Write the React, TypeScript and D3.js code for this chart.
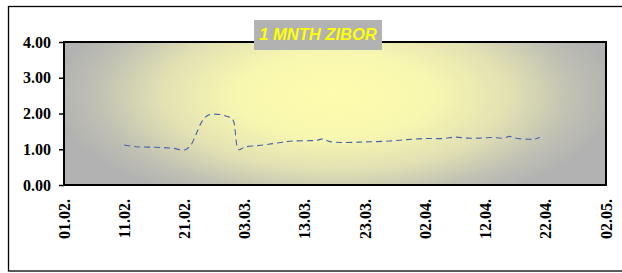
import { useRef, useEffect } from 'react'
import * as d3 from 'd3'

// observation dates (day.month) and 1 month ZIBOR values
const obsDates = [
  "11.02", "13.02", "15.02", "17.02", "19.02", "21.02", "22.02", "23.02", "24.02", "25.02",
  "27.02", "28.02", "01.03", "02.03", "03.03", "05.03", "07.03", "09.03", "11.03", "14.03",
  "15.03", "16.03", "17.03", "19.03", "22.03", "24.03", "27.03", "30.03", "02.04", "05.04",
  "07.04", "09.04", "11.04", "13.04", "14.04", "15.04", "16.04", "17.04", "19.04", "20.04", "21.04",
]
const zibor = [
  1.12, 1.07, 1.06, 1.05, 1.03, 0.98, 1.10, 1.45, 1.80, 1.96,
  1.97, 1.92, 1.84, 0.99, 1.06, 1.10, 1.14, 1.19, 1.23, 1.24,
  1.25, 1.29, 1.22, 1.19, 1.20, 1.21, 1.23, 1.27, 1.30, 1.30,
  1.34, 1.31, 1.31, 1.33, 1.32, 1.31, 1.36, 1.31, 1.28, 1.28, 1.33,
]
const xTickLabels = ["01.02.", "11.02.", "21.02.", "03.03.", "13.03.", "23.03.", "02.04.", "12.04.", "22.04.", "02.05."]
const yTicks = [0, 1, 2, 3, 4]
const title = "1 MNTH ZIBOR"

const YEAR = 2010
const parseDM = (s: string) => {
  const [d, m] = s.split(".").filter(Boolean).map(Number)
  return new Date(Date.UTC(YEAR, m - 1, d))
}

const SERIF = "'Liberation Serif', 'Times New Roman', Times, serif"

export default function App() {
  const svgRef = useRef<SVGSVGElement>(null)
  const width = 622
  const height = 273

  useEffect(() => {
    if (!svgRef.current) return
    const svg = d3.select(svgRef.current)
    svg.selectAll("*").remove()

    const plot = { left: 64, top: 42, right: 606, bottom: 185 }

    const x = d3.scaleUtc()
      .domain([parseDM("01.02."), parseDM("02.05.")])
      .range([plot.left, plot.right])
    const y = d3.scaleLinear()
      .domain([0, 4])
      .range([plot.bottom, plot.top])

    // outer frame
    svg.append("rect")
      .attr("x", 8.5).attr("y", 6.5)
      .attr("width", 640).attr("height", 264.5)
      .attr("fill", "white")
      .attr("stroke", "black")
      .attr("stroke-width", 1.3)

    // background gradient (elliptical, wide)
    const cx = 335, cy = 95
    const defs = svg.append("defs")
    const grad = defs.append("radialGradient")
      .attr("id", "bg-grad")
      .attr("gradientUnits", "userSpaceOnUse")
      .attr("cx", 0).attr("cy", 0).attr("r", 1)
      .attr("gradientTransform", `translate(${cx},${cy}) scale(280,120)`)
    grad.append("stop").attr("offset", "0%").attr("stop-color", "#fdfdad")
    grad.append("stop").attr("offset", "35%").attr("stop-color", "#f8f7b0")
    grad.append("stop").attr("offset", "62%").attr("stop-color", "#e2e1b3")
    grad.append("stop").attr("offset", "85%").attr("stop-color", "#c0c0b4")
    grad.append("stop").attr("offset", "100%").attr("stop-color", "#b2b2b2")

    svg.append("rect")
      .attr("x", plot.left).attr("y", plot.top)
      .attr("width", plot.right - plot.left)
      .attr("height", plot.bottom - plot.top)
      .attr("fill", "url(#bg-grad)")
      .attr("stroke", "black")
      .attr("stroke-width", 2)

    // y axis
    const yAxis = d3.axisLeft(y)
      .tickValues(yTicks)
      .tickFormat(d3.format(".2f"))
      .tickSize(5)
      .tickPadding(8)
    const yg = svg.append("g")
      .attr("transform", `translate(${plot.left},0)`)
      .call(yAxis)
    yg.attr("font-family", null).attr("font-size", null)
    yg.select(".domain").remove()
    yg.selectAll("line").attr("stroke", "black").attr("stroke-width", 1.5)
    yg.selectAll("text")
      .style("font-family", SERIF)
      .style("font-weight", "bold")
      .style("font-size", "16px")
      .attr("fill", "black")

    // x labels (rotated)
    svg.append("g")
      .selectAll("text")
      .data(xTickLabels)
      .enter()
      .append("text")
      .attr("transform", d => `translate(${x(parseDM(d))},199) rotate(-90)`)
      .attr("text-anchor", "end")
      .attr("dy", "0.35em")
      .style("font-family", SERIF)
      .style("font-weight", "bold")
      .style("font-size", "16px")
      .attr("fill", "black")
      .text(d => d)

    // line
    const pts = obsDates.map((d, i) => ({ date: parseDM(d), v: zibor[i] }))
    const line = d3.line<{ date: Date, v: number }>()
      .x(d => x(d.date))
      .y(d => y(d.v))
      .curve(d3.curveCatmullRom.alpha(0.5))
    svg.append("path")
      .datum(pts)
      .attr("d", line)
      .attr("fill", "none")
      .attr("stroke", "#4664ae")
      .attr("stroke-width", 1.1)
      .attr("stroke-dasharray", "6,4")

    // title box
    svg.append("rect")
      .attr("x", 254).attr("y", 20)
      .attr("width", 128).attr("height", 30)
      .attr("fill", "#b2b2b2")
    svg.append("text")
      .attr("x", 318).attr("y", 40)
      .attr("text-anchor", "middle")
      .style("font-family", "'Liberation Sans', Arial, sans-serif")
      .style("font-weight", "bold")
      .style("font-style", "italic")
      .style("font-size", "16.5px")
      .attr("fill", "#ffff00")
      .text(title)
  }, [])

  return (
    <svg
      ref={svgRef}
      width={width}
      height={height}
      style={{ position: 'absolute', left: 0, top: 0 }}
    />
  )
}
